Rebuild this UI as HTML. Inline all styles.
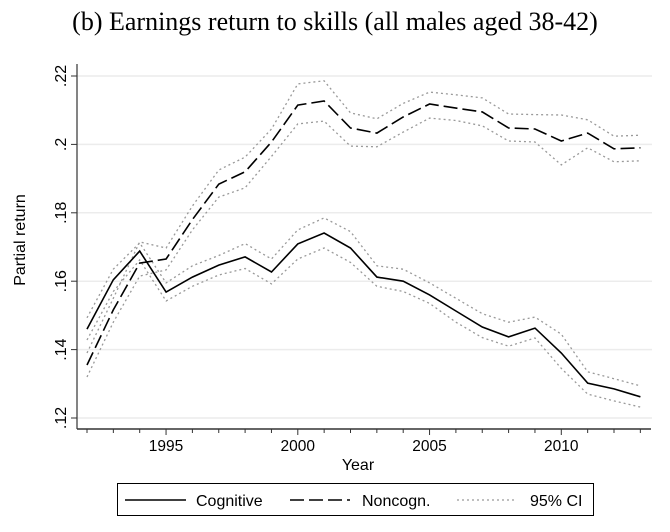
<!DOCTYPE html>
<html><head><meta charset="utf-8"><style>
body{margin:0;background:#fff;}
svg text{font-family:"Liberation Sans",sans-serif;fill:#000;}
</style></head><body>
<svg id="chart" width="670" height="527" xmlns="http://www.w3.org/2000/svg">
<text x="335" y="30" text-anchor="middle" style="font-family:'Liberation Serif',serif;font-size:26px">(b) Earnings return to skills (all males aged 38-42)</text>
<g id="grid"></g>
<g id="yaxis"></g>
<g id="xaxis"></g>
<g id="series"></g>
<text transform="translate(25,240) rotate(-90)" text-anchor="middle" font-size="16">Partial return</text>
<text x="358" y="470" text-anchor="middle" font-size="16">Year</text>
<g>
<rect x="117.5" y="483.5" width="476" height="32" fill="#fff" stroke="#000" stroke-width="1"/>
<line x1="125" y1="500" x2="186" y2="500" stroke="#000" stroke-width="1.5"/>
<text x="196" y="506" font-size="16">Cognitive</text>
<line x1="290" y1="500" x2="350" y2="500" stroke="#000" stroke-width="1.5" stroke-dasharray="14,5"/>
<text x="362" y="506" font-size="16">Noncogn.</text>
<line x1="457" y1="500" x2="517" y2="500" stroke="#999" stroke-width="1.2" stroke-dasharray="2,3"/>
<text x="530" y="506" font-size="16">95% CI</text>
</g>
</svg>
<script>
const years=[1992,1993,1994,1995,1996,1997,1998,1999,2000,2001,2002,2003,2004,2005,2006,2007,2008,2009,2010,2011,2012,2013];
const cognitive=[.146,.1604,.1688,.1568,.1612,.1647,.1671,.1627,.1709,.1741,.1697,.1612,.160,.156,.1513,.1466,.1437,.1463,.139,.1302,.1285,.1262];
const cogUpper=[.1493,.1635,.1712,.1595,.1645,.1675,.171,.1665,.175,.1785,.1745,.1645,.1635,.1595,.155,.1505,.148,.1495,.1445,.1335,.1315,.1294];
const cogLower=[.1428,.157,.1662,.1542,.1585,.1618,.1637,.1592,.1665,.1697,.1655,.1585,.157,.1535,.148,.1435,.141,.1434,.1345,.127,.125,.1232];
const noncog=[.1355,.1516,.1653,.1665,.178,.1884,.192,.2007,.2115,.2127,.2048,.2033,.208,.2118,.2106,.2095,.2048,.2045,.201,.2033,.1987,.199];
const nonUpper=[.139,.155,.1715,.1697,.182,.1925,.1963,.2045,.2177,.2186,.2092,.2075,.212,.2153,.2145,.2136,.2089,.2087,.2086,.2072,.2024,.2027];
const nonLower=[.132,.148,.1615,.1633,.175,.1846,.1873,.1965,.206,.2068,.1995,.1993,.2036,.2077,.207,.2054,.201,.2007,.194,.199,.1949,.1952];
const yTicks=[.12,.14,.16,.18,.2,.22];
const yTickLabels=[".12",".14",".16",".18",".2",".22"];
const xTicks=[1995,2000,2005,2010];

const NS="http://www.w3.org/2000/svg";
const X=v=>87+(v-1992)*26.35;
const Y=v=>418-(v-.12)*3420;
function mk(tag,attrs,parent){const e=document.createElementNS(NS,tag);for(const k in attrs)e.setAttribute(k,attrs[k]);document.getElementById(parent).appendChild(e);return e;}

yTicks.forEach((t,i)=>{
  const g=mk('line',{x1:77,x2:652,y1:Y(t),y2:Y(t),stroke:'#ececec','stroke-width':1.5},'grid');
  
  
  const tk=mk('line',{x1:71,x2:77,y1:Y(t),y2:Y(t),stroke:'#333','stroke-width':1},'yaxis');
  
  
  const tx=mk('text',{transform:`translate(66,${Y(t)}) rotate(-90)`,'text-anchor':'middle','font-size':16},'yaxis');
  tx.textContent=yTickLabels[i];
  
  
});
const ya=mk('line',{x1:77,x2:77,y1:64,y2:429,stroke:'#333','stroke-width':1.2},'yaxis');


const xa=mk('line',{x1:77,x2:651,y1:429,y2:429,stroke:'#333','stroke-width':1.5},'xaxis');


years.forEach(yr=>{
  const big=xTicks.includes(yr);
  const tk=mk('line',{x1:X(yr),x2:X(yr),y1:429,y2:big?435:433,stroke:'#333','stroke-width':1},'xaxis');
  
  
});
xTicks.forEach(yr=>{
  const tx=mk('text',{x:X(yr),y:451,'text-anchor':'middle','font-size':15.5},'xaxis');
  tx.textContent=yr;
  
  
});
function line(vals,name,style){
  const d=vals.map((v,i)=>(i?'L':'M')+X(years[i]).toFixed(1)+','+Y(v).toFixed(1)).join('');
  const p=mk('path',Object.assign({d:d,fill:'none'},style),'series');
  
  
}
const dot={stroke:'#999','stroke-width':1.3,'stroke-dasharray':'2,3'};
line(cogUpper,'cognitive-ci-upper',dot);
line(cogLower,'cognitive-ci-lower',dot);
line(nonUpper,'noncogn-ci-upper',dot);
line(nonLower,'noncogn-ci-lower',dot);
line(cognitive,'cognitive-line',{stroke:'#000','stroke-width':1.6});
line(noncog,'noncogn-line',{stroke:'#000','stroke-width':1.6,'stroke-dasharray':'14,5'});
</script>
</body></html>
